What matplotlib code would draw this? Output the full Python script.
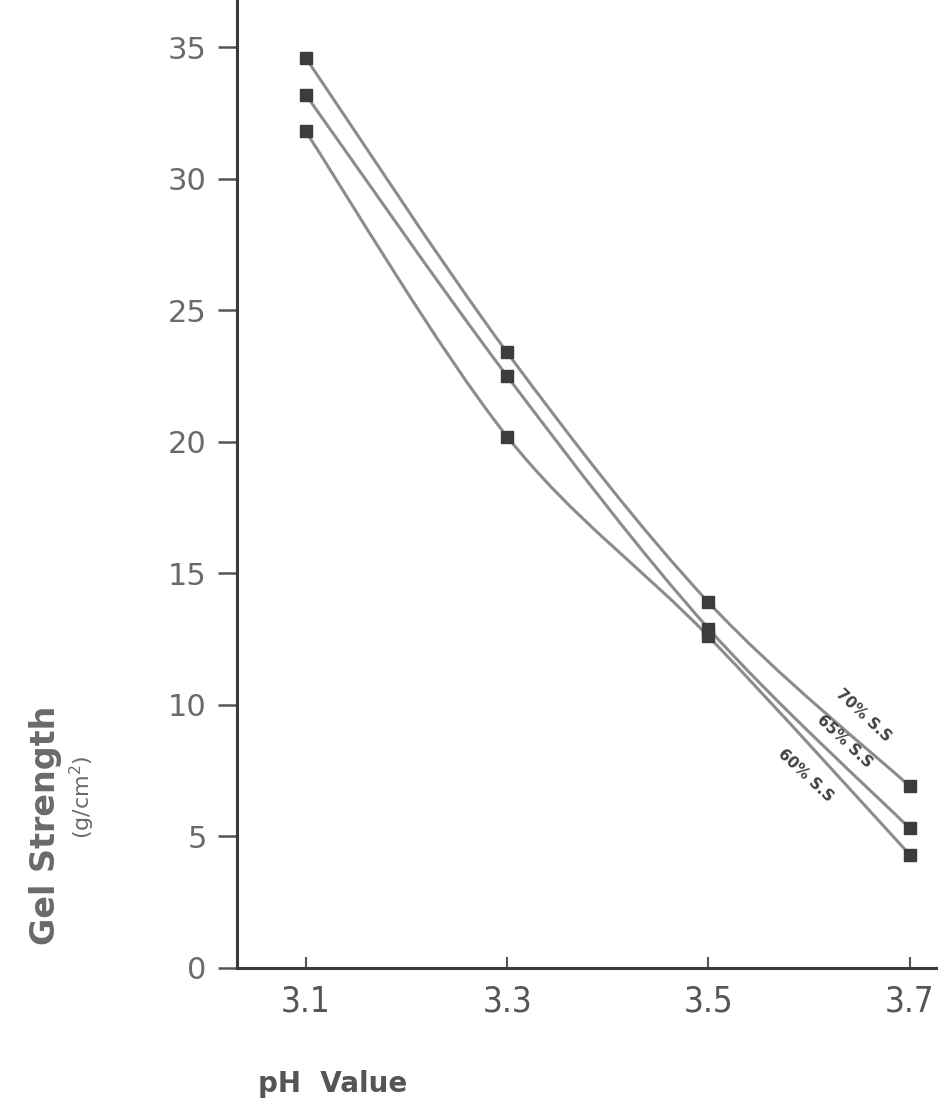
"""Gel strength vs pH for three sugar-solid levels, scanned-figure look."""

import matplotlib

matplotlib.use("Agg")

import matplotlib.pyplot as plt  # noqa: E402
from matplotlib.path import Path  # noqa: E402
from matplotlib.patches import PathPatch  # noqa: E402

# data
ph_values = [3.1, 3.3, 3.5, 3.7]
gel_70 = [34.6, 23.4, 13.9, 6.9]
gel_65 = [33.2, 22.5, 12.9, 5.3]
gel_60 = [31.8, 20.2, 12.6, 4.3]
series_labels = ["70% S.S", "65% S.S", "60% S.S"]
y_ticks = [0, 5, 10, 15, 20, 25, 30, 35]
x_ticks = [3.1, 3.3, 3.5, 3.7]

LINE = "#8c8c8c"
MARK = "#3c3c3c"
TEXT = "#6a6a6a"


def smooth_path(xs, ys):
    """Catmull-Rom through the points, as cubic Bezier segments."""
    pts = list(zip(xs, ys))
    verts = [pts[0]]
    codes = [Path.MOVETO]
    for i in range(len(pts) - 1):
        p0 = pts[i - 1] if i > 0 else pts[i]
        p1, p2 = pts[i], pts[i + 1]
        p3 = pts[i + 2] if i + 2 < len(pts) else p2
        c1 = (p1[0] + (p2[0] - p0[0]) / 6, p1[1] + (p2[1] - p0[1]) / 6)
        c2 = (p2[0] - (p3[0] - p1[0]) / 6, p2[1] - (p3[1] - p1[1]) / 6)
        verts += [c1, c2, p2]
        codes += [Path.CURVE4] * 3
    return Path(verts, codes)


fig = plt.figure(figsize=(9.38, 11.15), dpi=100)
fig.patch.set_facecolor("white")
ax = fig.add_axes([0.253, 0.132, 0.747, 0.868])

for ys in (gel_70, gel_65, gel_60):
    ax.add_patch(PathPatch(smooth_path(ph_values, ys), facecolor="none",
                           edgecolor=LINE, linewidth=2.2, zorder=2))
    ax.plot(ph_values, ys, linestyle="none", marker="s", markersize=8,
            color=MARK, zorder=3)

ax.set_xlim(3.032, 3.728)
ax.set_ylim(0, 36.8)

ax.spines["top"].set_visible(False)
ax.spines["right"].set_visible(False)
for side in ("left", "bottom"):
    ax.spines[side].set_color("#3a3a3a")
    ax.spines[side].set_linewidth(2.2)

ax.set_yticks(y_ticks)
ax.set_yticklabels([str(v) for v in y_ticks], fontsize=22, color=TEXT)
ax.tick_params(axis="y", direction="out", length=14, width=1.8,
               color="#555555", pad=8)

ax.set_xticks(x_ticks)
ax.set_xticklabels([f"{v:.1f}" for v in x_ticks], fontsize=25, color="#555555",
                   family="DejaVu Sans", fontstretch="condensed")
ax.tick_params(axis="x", direction="in", length=8, width=1.5,
               color="#555555", pad=12)

# curve labels running along the line ends
label_pos = [(3.654, 9.6), (3.635, 8.6), (3.596, 7.3)]
for text, (lx, ly) in zip(series_labels, label_pos):
    ax.text(lx, ly, text, rotation=-43, rotation_mode="anchor",
            ha="center", va="center", fontsize=11, fontweight="bold",
            color="#404040")

fig.text(0.048, 0.26, "Gel Strength", rotation=90, ha="center", va="center",
         fontsize=24, fontweight="bold", color=TEXT)
fig.text(0.088, 0.285, "(g/cm$^2$)", rotation=90, ha="center", va="center",
         fontsize=16, color=TEXT)
fig.text(0.275, 0.028, "pH  Value", ha="left", va="center",
         fontsize=20, fontweight="bold", color="#555555")

fig.savefig("out.png", dpi=100, facecolor="white")
plt.close(fig)
